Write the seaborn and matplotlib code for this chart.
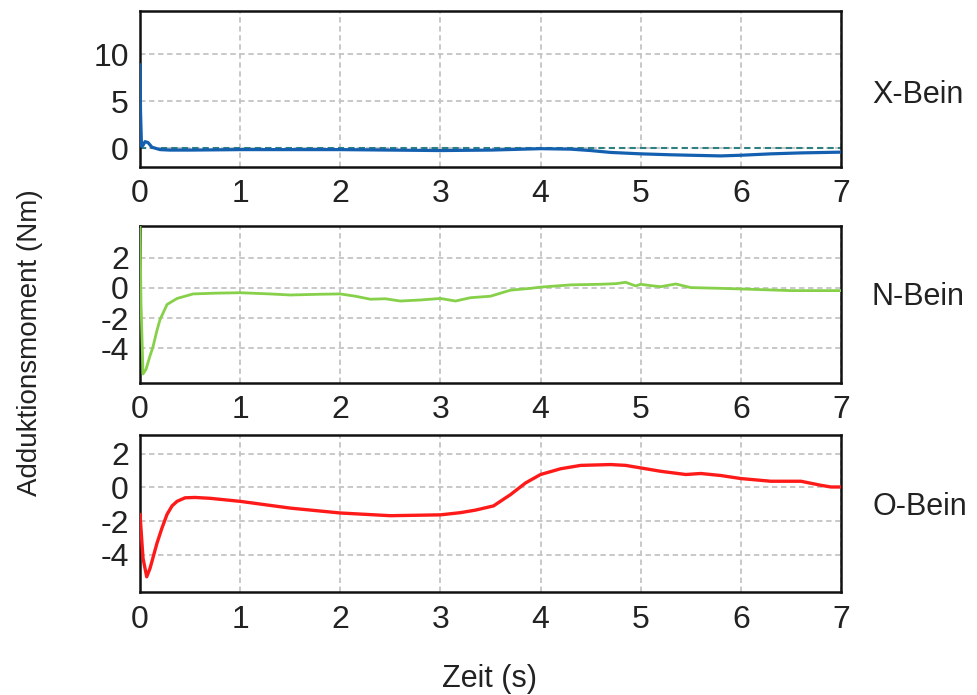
import numpy as np
import pandas as pd
import matplotlib
matplotlib.use("Agg")
import matplotlib.pyplot as plt
import seaborn as sns

# ---- data ----
t_x = [0, 0.005, 0.015, 0.03, 0.05, 0.08, 0.12, 0.2, 0.3, 0.5, 1.0, 1.5, 2.0, 2.5, 3.0,
       3.5, 4.0, 4.3, 4.5, 4.7, 5.0, 5.3, 5.5, 5.8, 6.0, 6.3, 6.6, 7.0]
v_x = [8.9, 4.0, 0.2, 0.3, 0.7, 0.6, 0.1, -0.15, -0.2, -0.2, -0.15, -0.15, -0.15, -0.2, -0.25,
       -0.2, -0.05, -0.1, -0.25, -0.45, -0.6, -0.7, -0.75, -0.82, -0.75, -0.6, -0.5, -0.42]

t_n = [0, 0.01, 0.03, 0.06, 0.1, 0.13, 0.17, 0.2, 0.27, 0.37, 0.53, 0.75, 1.0, 1.3, 1.5,
       1.8, 2.0, 2.15, 2.3, 2.45, 2.6, 2.8, 3.0, 3.15, 3.3, 3.5, 3.7, 3.9, 4.0, 4.3, 4.6,
       4.75, 4.85, 4.95, 5.0, 5.1, 5.2, 5.35, 5.5, 5.8, 6.0, 6.5, 7.0]
v_n = [4.1, -1.0, -5.7, -5.4, -4.5, -3.9, -2.8, -2.1, -1.1, -0.7, -0.4, -0.35, -0.32, -0.4, -0.47,
       -0.42, -0.4, -0.55, -0.75, -0.72, -0.87, -0.8, -0.7, -0.87, -0.65, -0.55, -0.15, -0.03, 0.05, 0.2, 0.24,
       0.28, 0.37, 0.13, 0.24, 0.15, 0.08, 0.26, 0.02, -0.03, -0.07, -0.18, -0.18]

t_o = [0, 0.03, 0.067, 0.1, 0.17, 0.22, 0.27, 0.32, 0.37, 0.45, 0.55, 0.7, 1.0, 1.5, 2.0,
       2.5, 3.0, 3.2, 3.35, 3.53, 3.7, 3.85, 4.0, 4.2, 4.4, 4.7, 4.85, 5.0, 5.2, 5.45, 5.6,
       5.8, 6.0, 6.3, 6.6, 6.8, 6.9, 7.0]
v_o = [-1.6, -4.2, -5.3, -4.8, -3.3, -2.4, -1.6, -1.1, -0.83, -0.62, -0.6, -0.65, -0.83, -1.23, -1.52,
       -1.68, -1.63, -1.5, -1.35, -1.1, -0.43, 0.26, 0.76, 1.1, 1.3, 1.35, 1.3, 1.15, 0.95, 0.76, 0.82,
       0.7, 0.52, 0.36, 0.36, 0.12, 0.02, 0.02]

labels = ["X-Bein", "N-Bein", "O-Bein"]
colors = ["#1460b0", "#86d04a", "#ff1a1a"]
yticks_list = [[0, 5, 10], [2, 0, -2, -4], [2, 0, -2, -4]]
ylims = [(-2.0, 14.6), (-6.3, 4.1), (-6.2, 3.1)]
xticks = [0, 1, 2, 3, 4, 5, 6, 7]

sns.set_theme(style="white")
plt.rcParams["font.family"] = ["Liberation Sans", "DejaVu Sans"]
plt.rcParams["axes.unicode_minus"] = False

fig = plt.figure(figsize=(9.77, 6.95), dpi=100)
W, H = 977, 695
boxes = [(140, 11, 841, 167), (140, 226, 841, 383), (140, 435, 841, 592)]
label_y = [95, 297, 507]
lws = [2.3, 2.0, 2.4]

series = [(t_x, v_x), (t_n, v_n), (t_o, v_o)]
for i, ((x0, y0, x1, y1), (t, v)) in enumerate(zip(boxes, series)):
    ax = fig.add_axes([x0 / W, 1 - y1 / H, (x1 - x0) / W, (y1 - y0) / H])
    ax.grid(True, color="#c4c4c4", linestyle=(0, (3, 2)), linewidth=1.3)
    ax.set_axisbelow(True)
    if i == 0:
        ax.axhline(0, color="#2f8080", linestyle=(0, (3, 2)), linewidth=1.5, zorder=1)
    df = pd.DataFrame({"t": t, "v": v})
    sns.lineplot(data=df, x="t", y="v", ax=ax, color=colors[i],
                 linewidth=lws[i], estimator=None, sort=True, zorder=3)
    ax.set_xlim(0, 7)
    ax.set_ylim(*ylims[i])
    ax.set_xticks(xticks)
    ax.set_yticks(yticks_list[i])
    ax.set_xticklabels([str(x) for x in xticks])
    ax.set_yticklabels([str(y) for y in yticks_list[i]])
    ax.tick_params(axis="both", length=0, labelsize=23, colors="#222222")
    ax.tick_params(axis="x", pad=9)
    ax.tick_params(axis="y", pad=8)
    ax.set_xlabel("")
    ax.set_ylabel("")
    for s in ax.spines.values():
        s.set_visible(True)
        s.set_color("#111111")
        s.set_linewidth(1.8)
    fig.text(872 / W, 1 - label_y[i] / H, labels[i], fontsize=22,
             ha="left", va="center", color="#222222")

fig.text(490 / W, 1 - 679 / H, "Zeit (s)", fontsize=22, ha="center", va="center", color="#222222")
fig.text(30 / W, 1 - 343 / H, "Adduktionsmoment (Nm)", fontsize=20, rotation=90,
         ha="center", va="center", color="#222222")

fig.savefig("out.png", dpi=100)
